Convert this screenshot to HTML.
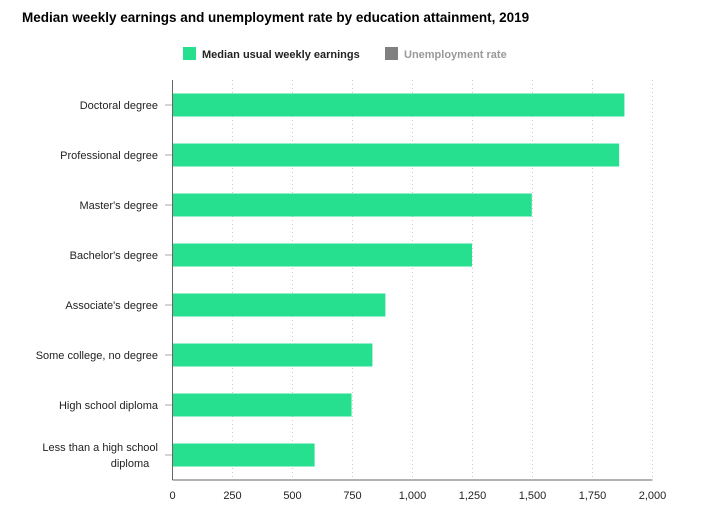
<!DOCTYPE html>
<html><head><meta charset="utf-8"><style>
body{margin:0;background:#fff;font-family:"Liberation Sans",sans-serif;}
svg text{font-family:"Liberation Sans",sans-serif;}
</style></head><body>
<svg width="705" height="521">
<text x="22" y="22" font-size="13.5" font-weight="bold" fill="#000">Median weekly earnings and unemployment rate by education attainment, 2019</text>
<g>
<rect x="183" y="47" width="13" height="13" fill="#26df8f"/>
<text x="202" y="58" font-size="11" font-weight="bold" fill="#222">Median usual weekly earnings</text>
<rect x="385" y="47" width="13" height="13" fill="#808080"/>
<text x="404" y="58" font-size="11" font-weight="bold" fill="#999">Unemployment rate</text>
</g>
<g id="grid"></g><g id="bars"></g><g id="axes"></g>
</svg>
<script>
const categories=["Doctoral degree","Professional degree","Master's degree","Bachelor's degree","Associate's degree","Some college, no degree","High school diploma","Less than a high school|diploma"];
const earnings=[1883,1861,1497,1248,887,833,746,592];
const ticks=[0,250,500,750,1000,1250,1500,1750,2000];
const tickLabels=["0","250","500","750","1,000","1,250","1,500","1,750","2,000"];
const NS="http://www.w3.org/2000/svg";
const x0=172.5,x1=652.5,xmax=2000,plotTop=80,plotBottom=480;
const xs=v=>x0+(v/xmax)*(x1-x0);
const ys=i=>105+i*50;
function mk(t,a,p){const e=document.createElementNS(NS,t);for(const k in a)e.setAttribute(k,a[k]);p.appendChild(e);return e;}
const gridG=document.getElementById('grid'),barsG=document.getElementById('bars'),axesG=document.getElementById('axes');
ticks.forEach((t,i)=>{
  if(i>0){const g=mk('line',{x1:xs(t),x2:xs(t),y1:plotTop,y2:plotBottom,stroke:'#ccc','stroke-dasharray':'1,3'},gridG);
  
  }
  const tx=mk('text',{x:xs(t),y:499,'font-size':'11','text-anchor':'middle',fill:'#222'},axesG);
  tx.textContent=tickLabels[i];
  
  
});
categories.forEach((c,i)=>{
  const b=mk('rect',{x:x0,y:ys(i)-11.5,width:xs(earnings[i])-x0,height:23,fill:'#26df8f'},barsG);
  
  
  const tk=mk('line',{x1:165,x2:x0,y1:ys(i),y2:ys(i),stroke:'#aaa'},axesG);
  
  
  const parts=c.split('|');
  parts.forEach((p,j)=>{
    const y=parts.length>1?ys(i)-4+j*16:ys(i)+4;
    const t=mk('text',{x:parts.length>1&&j==1?130:158,y:y,'font-size':'11','text-anchor':parts.length>1&&j==1?'middle':'end',fill:'#222'},axesG);
    t.textContent=p;
    
    
  });
});
const ya=mk('line',{x1:x0,x2:x0,y1:plotTop,y2:plotBottom,stroke:'#666'},axesG);


const xa=mk('line',{x1:x0,x2:x1,y1:plotBottom,y2:plotBottom,stroke:'#666'},axesG);


</script>
</body></html>
